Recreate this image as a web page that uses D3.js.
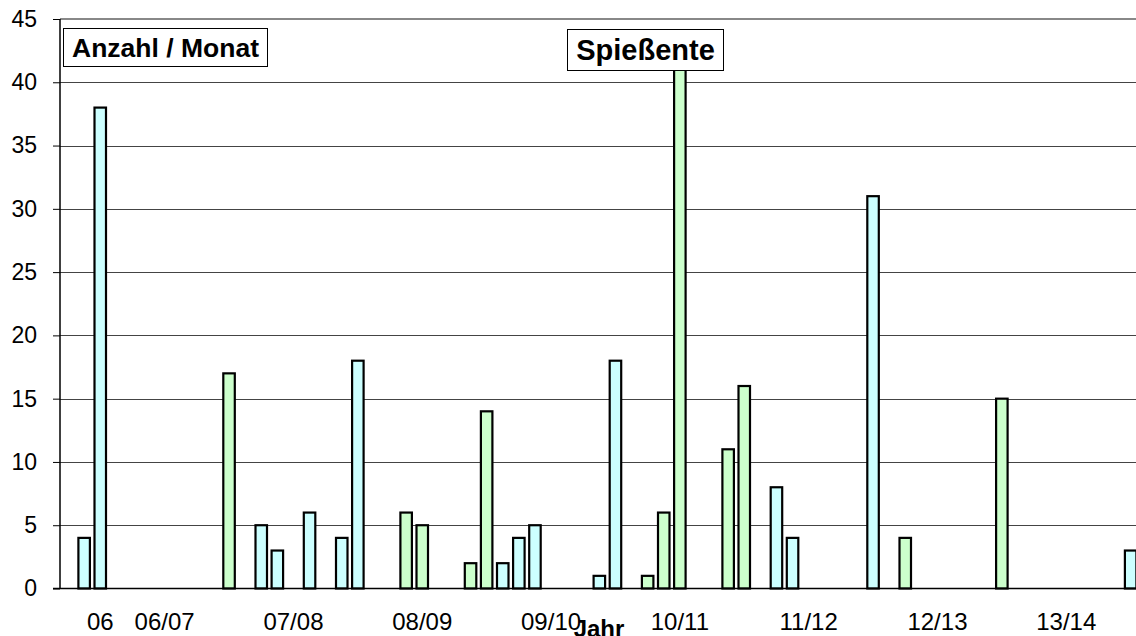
<!DOCTYPE html>
<html>
<head>
<meta charset="utf-8">
<script src="https://cdn.jsdelivr.net/npm/d3@7"></script>
<style>
  html, body { margin: 0; padding: 0; background: #fff; }
  svg { display: block; }
  text { font-family: "Liberation Sans", Arial, sans-serif; }
</style>
</head>
<body>
<svg id="chart" width="1136" height="636"></svg>
<script>
// ---- data ----
// 67 monthly slots: partial season "06" (3 slots) + 8 seasons of 8 months each
const xTickLabels = [
  "", "", "06",
  "", "", "", "06/07", "", "", "", "",
  "", "", "", "07/08", "", "", "", "",
  "", "", "", "08/09", "", "", "", "",
  "", "", "", "09/10", "", "", "", "",
  "", "", "", "10/11", "", "", "", "",
  "", "", "", "11/12", "", "", "", "",
  "", "", "", "12/13", "", "", "", "",
  "", "", "", "13/14", "", "", "", ""
];
const cyanValues = [
  null, 4, 38,
  null, null, null, null, null, null, null, null,
  null, 5, 3, null, 6, null, 4, 18,
  null, null, null, null, null, null, null, null,
  2, 4, 5, null, null, null, 1, 18,
  null, null, null, null, null, null, null, null,
  null, 8, 4, null, null, null, null, 31,
  null, null, null, null, null, null, null, null,
  null, null, null, null, null, null, null, 3
];
const greenValues = [
  null, null, null,
  null, null, null, null, null, null, null, 17,
  null, null, null, null, null, null, null, null,
  null, null, 6, 5, null, null, 2, 14,
  null, null, null, null, null, null, null, null,
  null, 1, 6, 41, null, null, 11, 16,
  null, null, null, null, null, null, null, null,
  null, 4, null, null, null, null, null, 15,
  null, null, null, null, null, null, null, null
];
const yTicks = [0, 5, 10, 15, 20, 25, 30, 35, 40, 45];
const yTitle = "Anzahl / Monat";
const xTitle = "Jahr";
const chartTitle = "Spießente";

// ---- layout ----
const svg = d3.select("#chart");
const plotLeft = 60, plotTop = 19, plotBottom = 588.5;
const step = 16.1;
const idx = d3.range(xTickLabels.length);
const x = d3.scaleBand().domain(idx).range([plotLeft, plotLeft + step * idx.length]).padding(0);
const y = d3.scaleLinear().domain([0, 45]).range([plotBottom, plotTop]);

svg.append("rect").attr("width", 1136).attr("height", 636).attr("fill", "#fff");

// gridlines
svg.append("g").selectAll("line").data(yTicks.filter(d => d > 0 && d < 45)).join("line")
  .attr("x1", plotLeft).attr("x2", 1136)
  .attr("y1", d => Math.round(y(d)) + 0.5).attr("y2", d => Math.round(y(d)) + 0.5)
  .attr("stroke", "#444").attr("stroke-width", 1);

// top plot border
svg.append("line").attr("x1", plotLeft).attr("x2", 1136)
  .attr("y1", y(45)).attr("y2", y(45))
  .attr("stroke", "#888").attr("stroke-width", 2);

// bars
const barW = 11.5;
function drawBars(values, fill) {
  const data = values.map((v, i) => ({ i, v })).filter(d => d.v != null);
  svg.append("g").selectAll("rect").data(data).join("rect")
    .attr("x", d => x(d.i) + x.bandwidth() / 2 - barW / 2)
    .attr("y", d => y(d.v))
    .attr("width", barW)
    .attr("height", d => y(0) - y(d.v))
    .attr("fill", fill)
    .attr("stroke", "#000")
    .attr("stroke-width", 2.2);
}
drawBars(cyanValues, "#CCFFFF");
drawBars(greenValues, "#CCFFCC");

// y axis
const yAxis = d3.axisLeft(y).tickValues(yTicks).tickSize(7).tickPadding(16).tickFormat(d3.format("d"));
const yg = svg.append("g").attr("transform", `translate(${plotLeft},0)`).call(yAxis);
yg.select(".domain").attr("stroke", "#000").attr("stroke-width", 1.5).attr("d", `M0,${y(45)}V${plotBottom}`);
yg.selectAll(".tick line").attr("stroke", "#000");
yg.selectAll(".tick text").attr("font-size", 23).attr("fill", "#000")
  .attr("font-family", "'Liberation Sans', Arial, sans-serif");

// x axis
const xAxis = d3.axisBottom(x).tickSize(0).tickPadding(24).tickFormat(i => xTickLabels[i]);
const xg = svg.append("g").attr("transform", `translate(0,${plotBottom})`).call(xAxis);
xg.select(".domain").attr("stroke", "#000").attr("stroke-width", 1.5).attr("d", `M${plotLeft - 7},0H1136`);
xg.selectAll(".tick text").attr("font-size", 24).attr("fill", "#000")
  .attr("font-family", "'Liberation Sans', Arial, sans-serif");

// axis title
svg.append("text").attr("x", 599).attr("y", 637).attr("text-anchor", "middle")
  .attr("font-size", 24).attr("font-weight", "bold").text(xTitle);

// label boxes
function labelBox(x0, y0, w, h, txt, fs) {
  svg.append("rect").attr("x", x0 + 0.5).attr("y", y0 + 0.5).attr("width", w).attr("height", h)
    .attr("fill", "#fff").attr("stroke", "#000").attr("stroke-width", 1);
  svg.append("text").attr("x", x0 + w / 2 + 0.5).attr("y", y0 + h / 2 + fs * 0.36)
    .attr("text-anchor", "middle").attr("font-size", fs).attr("font-weight", "bold")
    .attr("fill", "#000").text(txt);
}
labelBox(63, 28, 204, 38, yTitle, 26.5);
labelBox(567, 29, 156, 41, chartTitle, 29);
</script>
</body>
</html>
